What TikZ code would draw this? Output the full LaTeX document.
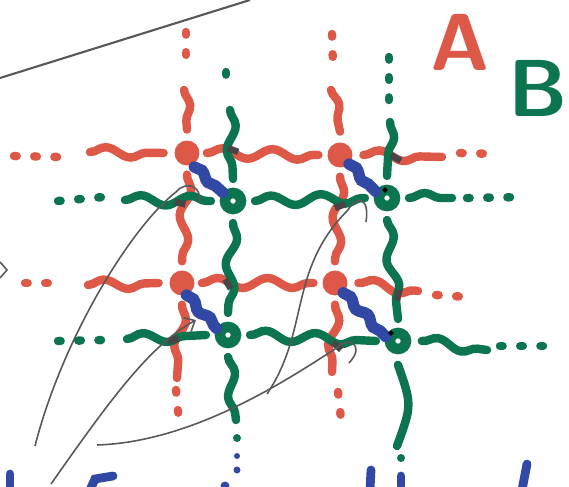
\documentclass[tikz,border=0pt]{standalone}
\usetikzlibrary{arrows.meta, decorations.pathmorphing}
\definecolor{sred}{RGB}{222,88,72}
\definecolor{sgreen}{RGB}{12,116,78}
\definecolor{sblue}{RGB}{50,72,165}
\definecolor{sgray}{RGB}{88,88,88}
\tikzset{
    asite/.style={circle, fill=sred, minimum size=0.5cm, inner sep=0pt},
    bsite/.style={circle, draw=sgreen, line width=6pt, minimum size=0.32cm, inner sep=0pt},
    awave/.style={draw=sred, line width=4.8pt, line cap=round, decorate,
        decoration={snake, segment length=1cm, amplitude=0.1cm}},
    bwave/.style={awave, draw=sgreen},
    bline/.style={draw=sgreen, line width=4.8pt, line cap=round},
    bond/.style={draw=sblue, line width=6.5pt, line cap=round, decorate,
        decoration={snake, segment length=0.5cm, amplitude=0.05cm}},
    adots/.style={draw=sred, line width=4.8pt, line cap=round, dash pattern=on 1.5pt off 10pt},
    bdots/.style={adots, draw=sgreen},
    xmark/.style={rectangle, fill=sgray!80!black, minimum width=0.22cm,
        minimum height=0.13cm, inner sep=0pt},
    pen/.style={draw=sgray, line width=0.9pt},
    penarr/.style={pen, -{Straight Barb[length=5pt, width=9pt]}},
    ink/.style={draw=sblue, line width=5pt, line cap=round}
}

\begin{document}
\begin{tikzpicture}[x=0.02cm, y=-0.02cm]
\useasboundingbox (0,0) rectangle (569,487);

%% SITES: A = red dots, B = green rings
\node[asite] (a1) at (187,153) {};
\node[asite] (a2) at (340,155) {};
\node[asite] (a3) at (182,283) {};
\node[asite] (a4) at (335,283) {};
\node[bsite] (b1) at (233,201) {};
\node[bsite] (b2) at (387,198) {};
\node[bsite] (b3) at (228,335) {};
\node[bsite] (b4) at (398,341) {};

%% ── LATTICE A (red) ─────────────────────────────────────────────
\draw[adots] (14,156) -- (60,157);
\draw[awave] (90,152) -- ([xshift=-6pt]a1.west);
\draw[awave] ([xshift=4pt]a1.east) -- ([xshift=-5pt]a2.west);
\draw[awave] ([xshift=6pt]a2.east) -- (442,157);
\draw[adots] (460,153) -- (497,154);

\draw[adots] (25,283) -- (62,283);
\draw[awave] (88,285) -- ([xshift=-6pt]a3.west);
\draw[awave] ([xshift=4pt]a3.east) -- ([xshift=-5pt]a4.west);
\draw[awave] ([xshift=6pt]a4.east) -- (418,291);
\draw[adots] (436,295) -- (468,297);

\draw[adots] (186,32) -- (186,62);
\draw[awave] (184,90) -- ([yshift=6pt]a1.north);
\draw[awave] ([yshift=-5pt]a1.south) -- ([yshift=5pt]a3.north);
\draw[awave] ([yshift=-5pt]a3.south) -- (177,378);
\draw[adots] (176,390) -- (179,422);

\draw[adots] (332,34) -- (333,64);
\draw[awave] (331,90) -- ([yshift=6pt]a2.north);
\draw[awave] ([yshift=-5pt]a2.south) -- ([yshift=5pt]a4.north);
\draw[awave] ([yshift=-5pt]a4.south) -- (332,372);
\draw[adots] (338,392) -- (342,428);

%% ── LATTICE B (green) ───────────────────────────────────────────
\draw[bdots] (58,201) -- (115,196);
\draw[bwave] (125,200) -- ([xshift=-5pt]b1.west);
\draw[bwave] ([xshift=5pt]b1.east) -- ([xshift=-5pt]b2.west);
\draw[bwave] ([xshift=5pt]b2.east) -- (452,198);
\draw[bdots] (467,198) -- (525,197);

\draw[bdots] (58,341) -- (104,340);
\draw[bwave] (127,339) -- ([xshift=-5pt]b3.west);
\draw[bwave] ([xshift=5pt]b3.east) -- ([xshift=-5pt]b4.west);
\draw[bwave] ([xshift=6pt]b4.east) -- (487,350);
\draw[bdots] (500,346) -- (550,346);

\draw[bdots] (226,72) -- (226,90);
\draw[bwave] (230,110) -- ([yshift=5pt]b1.north);
\draw[bwave] ([yshift=-5pt]b1.south) -- ([yshift=5pt]b3.north);
\draw[bwave] ([yshift=-5pt]b3.south) -- (236,420);
\fill[sgreen] (237,438) circle (0.08cm);

\draw[bdots] (389,57) -- (389,100);
\draw[bwave] (390,122) -- ([yshift=5pt]b2.north);
\draw[bwave] ([yshift=-5pt]b2.south) -- ([yshift=5pt]b4.north);
\draw[bline] ([yshift=-6pt]b4.south) .. controls (412,405) .. (397,446);
\fill[sgreen] (401,458) circle (0.08cm);

%% ── A-B BONDS (blue) ────────────────────────────────────────────
\draw[bond] ([yshift=-2pt]a1.-55) -- (b1.140);
\draw[bond] (a2.-45) -- (b2.150);
\draw[bond] (a3.-70) -- (b3.150);
\draw[bond] (a4.-50) -- (b4.160);

%% crossings of the two lattices
\node[xmark, rotate=-20] (x1) at (233,150) {};
\node[xmark, rotate=-30] (x2) at (396,158) {};
\node[xmark, rotate=-15] (x3) at (180,203) {};
\node[xmark, rotate=20]  (x4) at (340,206) {};
\node[xmark, rotate=-60] (x5) at (228,284) {};
\node[xmark, rotate=80]  (x6) at (398,295) {};
\node[xmark, rotate=20]  (x7) at (173,340) {};
\node[xmark, rotate=-40] (x8) at (337,346) {};
\node[fill=black, rotate=45, minimum size=0.08cm, inner sep=0pt] (k1) at (385,190) {};
\node[fill=black, rotate=45, minimum size=0.08cm, inner sep=0pt] (k2) at (391,333) {};

%% ── PEN STROKES (gray) ──────────────────────────────────────────
\coordinate (t1) at (0,78);
\coordinate (t2) at (250,0);
\draw[pen, line width=1.2pt] (t1) -- (t2);
\draw[pen] (0,262) -- (7,270) -- (0,278);

\coordinate (g1) at (35,446);
\coordinate (h1) at (199,203);
\draw[pen] (g1) .. controls (62,340) and (130,228) .. (176,192)
    .. controls (186,180) and (203,186) .. (h1);

\coordinate (g2) at (51,484);
\coordinate (h2) at (196,320);
\draw[penarr] (g2) .. controls (110,400) and (150,345) .. (h2);

\coordinate (g3) at (97,445);
\coordinate (h3) at (349,363);
\draw[pen] (g3) .. controls (190,442) and (280,385) .. (338,347)
    .. controls (348,336) and (366,345) .. (h3);

\coordinate (g4) at (267,394);
\coordinate (h4) at (366,222);
\draw[pen] (g4) .. controls (310,330) and (288,270) .. (348,210)
    .. controls (356,196) and (370,196) .. (h4);

%% lattice labels
\node[text=sred, font=\fontsize{46}{46}\selectfont\sffamily\bfseries] (labA) at (460,42) {A};
\node[text=sgreen, font=\fontsize{46}{46}\selectfont\sffamily\bfseries] (labB) at (538,88) {B};

%% cut-off writing at the bottom
\draw[ink] (10,474) -- (10,490);
\draw[ink] (90,490) -- (95,479) -- (113,476);
\fill[sblue] (237,456) circle (0.06cm);
\fill[sblue] (237,470) circle (0.07cm);
\fill[sblue] (225,486) circle (0.09cm);
\draw[ink] (371,470) -- (370,490);
\draw[ink] (401,476) -- (401,486);
\draw[ink] (527,464) -- (522,490);
\end{tikzpicture}
\end{document}
